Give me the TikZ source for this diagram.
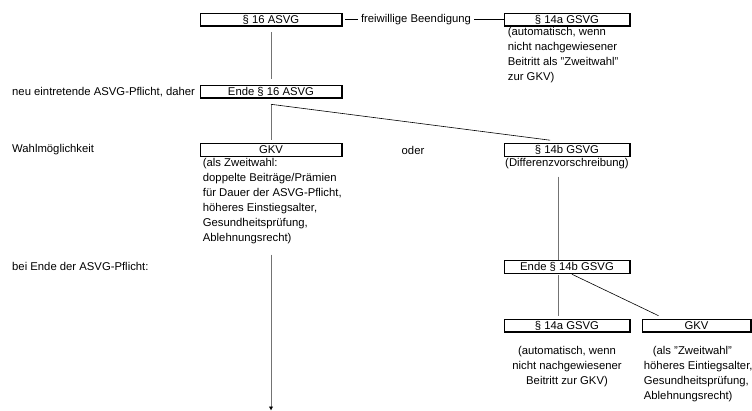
\documentclass[tikz,border=0pt]{standalone}
\usepackage{fontspec}
\setmainfont{Liberation Sans}
\usepackage{tikz}
\usetikzlibrary{positioning,calc,arrows.meta}

\begin{document}
\begin{tikzpicture}[x=1pt, y=-1pt, font=\fontsize{11.3pt}{15pt}\selectfont,
  box/.style = {draw, line width=0.6pt, minimum height=13pt, inner sep=0pt,
    path picture={\draw[line width=2.2pt] (path picture bounding box.south west) -- (path picture bounding box.north west)
      (path picture bounding box.south east) -- (path picture bounding box.north east);
      \draw[line width=1.6pt] (path picture bounding box.south west) -- (path picture bounding box.south east);}},
  info/.style = {inner sep=0pt, align=left},
  vline/.style = {draw=black!55, line width=0.7pt},
  sline/.style = {draw=black, line width=0.6pt}]
\useasboundingbox (0,0) rectangle (752,411);
% linke Spalte
\node[box, minimum width=142pt] (asvg16) at (271,19.5) {\S\ 16 ASVG};
\node[box, minimum width=142pt] (ende16) at (271,91.5) {Ende \S\ 16 ASVG};
\node[box, minimum width=142pt] (gkv) at (271,150) {GKV};
\node[info, below right=1pt and 3pt of gkv.south west, anchor=north west] (gkvtext) {(als Zweitwahl:\\doppelte Beiträge/Prämien\\für Dauer der ASVG-Pflicht,\\höheres Einstiegsalter,\\Gesundheitsprüfung,\\Ablehnungsrecht)};
% rechte Spalte
\node[inner sep=3pt] (beendigung) at (416,19.5) {freiwillige Beendigung};
\node[box, minimum width=126pt] (gsvg14a) at (567,19.5) {\S\ 14a GSVG};
\node[info, below right=1pt and 4pt of gsvg14a.south west, anchor=north west] (gsvg14atext) {(automatisch, wenn\\nicht nachgewiesener\\Beitritt als "Zweitwahl"\\zur GKV)};
\node[box, minimum width=126pt] (gsvg14b) at (567,150) {\S\ 14b GSVG};
\node[info, below=1pt of gsvg14b] (differenz) {(Differenzvorschreibung)};
\node[box, minimum width=126pt] (ende14b) at (567,267) {Ende \S\ 14b GSVG};
\node[box, minimum width=126pt] (gsvg14au) at (567,325.5) {\S\ 14a GSVG};
\node[info, align=center, below=14pt of gsvg14au] (gsvg14autext) {(automatisch, wenn\\nicht nachgewiesener\\Beitritt zur GKV)};
\node[box, minimum width=109pt] (gkvu) at (696.5,325.5) {GKV};
\node[info, below right=14pt and 2pt of gkvu.south west, anchor=north west] (gkvutext) {\hspace*{9pt}(als "Zweitwahl"\\höheres Eintiegsalter,\\Gesundheitsprüfung,\\Ablehnungsrecht)};
% Beschriftungen links
\node[info, anchor=west] (neu) at (12,92) {neu eintretende ASVG-Pflicht, daher};
\node[info, anchor=west] (wahl) at (12,150) {Wahlmöglichkeit};
\node[info, anchor=west] (beiende) at (12,266.5) {bei Ende der ASVG-Pflicht:};
\node[info] (oder) at (413,150) {oder};
% Verbindungen
\coordinate[below=6pt of ende16] (gabel);
\coordinate (pfeilende) at (271,410.5);
\draw[sline, shorten <=3pt] (asvg16) -- (beendigung);
\draw[sline] (beendigung) -- (gsvg14a);
\draw[vline, shorten <=6pt, shorten >=6pt] (asvg16) -- (ende16);
\draw[vline, shorten >=3pt] (gabel) -- (gkv);
\draw[sline] (gabel) -- ($(gsvg14b.north)+(-17pt,3pt)$);
\draw[vline, -{Latex[black,length=4pt,width=4.5pt]}, shorten <=11pt] (gkv |- gkvtext.south) -- (pfeilende);
\draw[vline, shorten <=8pt] ([xshift=-9pt]differenz.south) -- ([xshift=-9pt]ende14b.north);
\draw[vline, shorten <=1pt, shorten >=3pt] ([xshift=-9pt]ende14b.south) -- ([xshift=-9pt]gsvg14au.north);
\draw[sline, shorten <=1pt] ([xshift=4pt]ende14b.south) -- ([xshift=-38pt, yshift=3pt]gkvu.north);
\end{tikzpicture}
\end{document}
